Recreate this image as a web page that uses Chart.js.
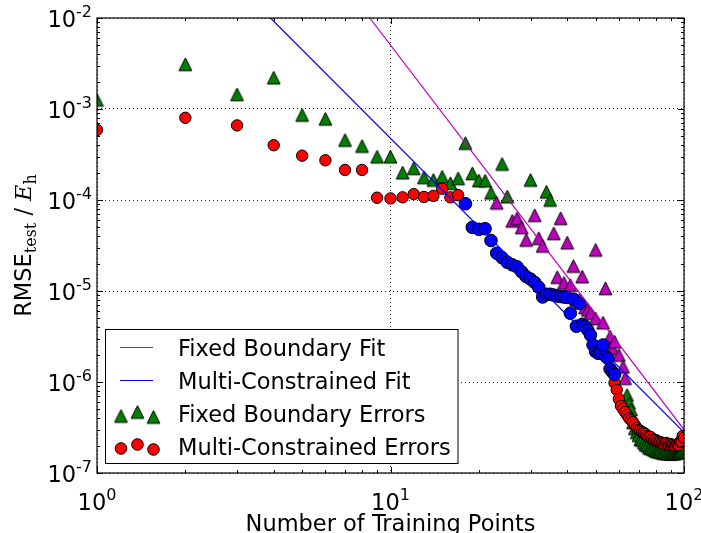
<!DOCTYPE html>
<html>
<head>
<meta charset="utf-8">
<script src="https://cdn.jsdelivr.net/npm/chart.js@4/dist/chart.umd.min.js"></script>
<style>
  html, body { margin: 0; padding: 0; background: #fff; }
  #wrap { width: 701px; height: 533px; }
</style>
</head>
<body>
<div id="wrap"><canvas id="c" width="701" height="533"></canvas></div>
<script>
// Number of training points vs. test RMSE (log-log)

// Fixed boundary errors (points outside the fitted range)
const fixedN = [1,2,3,4,5,6,7,8,9,10,11,12,13,14,15,16,17,18,19,20,21,22,24,25,30,34,35,
  64,65,66,67,68,69,70,71,72,73,74,75,76,77,78,79,80,81,82,83,84,85,86,87,88,89,90,91,92,93,94,95,96,97,98,99,100];
const fixedErr = [1.26e-3,3.1e-3,1.45e-3,2.21e-3,8.6e-4,7.8e-4,4.56e-4,3.92e-4,2.99e-4,2.99e-4,2.0e-4,2.23e-4,1.77e-4,1.66e-4,1.80e-4,1.53e-4,1.73e-4,4.22e-4,1.96e-4,1.64e-4,1.63e-4,1.20e-4,2.49e-4,1.09e-4,1.66e-4,1.23e-4,1.0e-4,
  7.2e-7,5.9e-7,5.0e-7,3.6e-7,3.1e-7,2.8e-7,2.6e-7,2.35e-7,2.3e-7,2.15e-7,2.05e-7,2.0e-7,1.9e-7,1.87e-7,1.85e-7,1.8e-7,1.76e-7,1.74e-7,1.71e-7,1.72e-7,1.68e-7,1.66e-7,1.67e-7,1.65e-7,1.64e-7,1.65e-7,1.63e-7,1.64e-7,1.65e-7,1.64e-7,1.66e-7,1.68e-7,1.7e-7,1.75e-7,1.8e-7,1.9e-7,2.0e-7];

// Fixed boundary errors inside the fitted range
const fixedFitN = [23,26,27,28,29,31,32,33,36,37,38,39,40,41,42,43,44,45,46,47,48,50,50,53,54,56,57,58,60,62,63];
const fixedFitErr = [9.3e-5,5.9e-5,6.3e-5,5.0e-5,3.64e-5,6.8e-5,3.8e-5,3.13e-5,4.3e-5,1.42e-5,6.3e-5,1.23e-5,3.4e-5,1.16e-5,1.88e-5,8.0e-6,8.0e-6,1.44e-5,6.6e-6,6.2e-6,5.7e-6,2.83e-5,5.0e-6,4.49e-6,1.07e-5,3.15e-6,2.34e-6,2.77e-6,1.98e-6,1.47e-6,1.1e-6];

// Multi-constrained errors (points outside the fitted range)
const multiN = [1,2,3,4,5,6,7,8,9,10,11,12,13,14,15,16,17,
  58,59,60,61,62,63,64,65,66,67,68,69,70,71,72,73,74,75,76,77,78,79,80,81,82,83,84,85,86,87,88,89,90,91,92,93,94,95,96,97,98,99,100];
const multiErr = [5.9e-4,8.0e-4,6.6e-4,4.0e-4,3.07e-4,2.73e-4,2.14e-4,2.14e-4,1.06e-4,1.04e-4,1.07e-4,1.16e-4,1.08e-4,1.11e-4,1.33e-4,1.07e-4,1.13e-4,
  9.75e-7,8.2e-7,6.5e-7,5.44e-7,5.05e-7,4.68e-7,4.34e-7,4.02e-7,3.82e-7,3.63e-7,3.37e-7,3.12e-7,2.97e-7,2.9e-7,2.82e-7,2.75e-7,2.68e-7,2.55e-7,2.49e-7,2.49e-7,2.37e-7,2.31e-7,2.31e-7,2.25e-7,2.19e-7,2.19e-7,2.14e-7,2.14e-7,2.08e-7,2.14e-7,2.08e-7,2.03e-7,2.08e-7,2.03e-7,2.03e-7,1.98e-7,2.03e-7,2.08e-7,2.03e-7,2.19e-7,2.25e-7,2.55e-7,2.43e-7];

// Multi-constrained errors inside the fitted range
const multiFitN = [18,19,20,21,22,23,24,25,26,27,28,29,30,31,32,33,34,35,36,37,38,39,40,41,42,43,44,45,46,47,48,49,50,51,52,53,54,55,56,57,58];
const multiFitErr = [9.1e-5,5.0e-5,4.76e-5,4.84e-5,3.59e-5,2.6e-5,2.32e-5,2.07e-5,1.94e-5,1.84e-5,1.62e-5,1.44e-5,1.35e-5,1.24e-5,1.1e-5,8.6e-6,9.2e-6,9.2e-6,9.0e-6,8.8e-6,8.7e-6,8.6e-6,8.5e-6,5.7e-6,8.1e-6,4.1e-6,7.3e-6,4.3e-6,4.1e-6,3.73e-6,3.28e-6,2.55e-6,2.16e-6,2.07e-6,2.1e-6,2.55e-6,1.93e-6,1.82e-6,1.39e-6,1.29e-6,1.21e-6];

// Power-law fit lines (end points of the straight lines in log-log space)
const fixedFitLineN = [8.5, 100];
const fixedFitLineY = [1e-2, 3.0e-7];
const multiFitLineN = [3.9, 100];
const multiFitLineY = [1e-2, 2.8e-7];

// Axis ranges and major ticks
const xTicks = [1, 10, 100];
const xTickExp = ['0', '1', '2'];
const yTicks = [1e-7, 1e-6, 1e-5, 1e-4, 1e-3, 1e-2];
const yTickExp = ['-7', '-6', '-5', '-4', '-3', '-2'];

const legendLabels = ['Fixed Boundary Fit', 'Multi-Constrained Fit', 'Fixed Boundary Errors', 'Multi-Constrained Errors'];

const GREEN = '#008000', MAGENTA = '#bf00bf', BLUE = '#0000ff', RED = '#ff0000';
const SANS = '"DejaVu Sans", sans-serif';
const SERIF = '"DejaVu Serif", serif';
const FS = 22.5, FS_SUP = 16;

function pts(xs, ys) { return xs.map((x, i) => ({ x: x, y: ys[i] })); }

// upward triangle marker, as wide as it is tall
function triangle(color) {
  const s = 17, c = document.createElement('canvas');
  c.width = s; c.height = s;
  const g = c.getContext('2d');
  const h = 6.4, cx = s / 2, cy = s / 2;
  g.beginPath();
  g.moveTo(cx, cy - h); g.lineTo(cx + h, cy + h); g.lineTo(cx - h, cy + h); g.closePath();
  g.fillStyle = color; g.fill();
  g.lineWidth = 1; g.strokeStyle = '#000'; g.lineJoin = 'miter'; g.stroke();
  return c;
}
const triGreen = triangle(GREEN), triMagenta = triangle(MAGENTA);

function powLabel(ctx, exp, x, y, align) {
  ctx.font = FS + 'px ' + SANS;
  const wb = ctx.measureText('10').width;
  ctx.font = FS_SUP + 'px ' + SANS;
  const we = ctx.measureText(exp).width;
  const total = wb + we;
  const x0 = align === 'right' ? x - total : x - total / 2;
  ctx.textAlign = 'left'; ctx.textBaseline = 'alphabetic';
  ctx.font = FS + 'px ' + SANS; ctx.fillText('10', x0, y);
  ctx.font = FS_SUP + 'px ' + SANS; ctx.fillText(exp, x0 + wb, y - 10);
}

function minorValues(min, max) {
  const out = [];
  for (let e = Math.floor(Math.log10(min)); e < Math.ceil(Math.log10(max)); e++) {
    for (let m = 2; m <= 9; m++) {
      const v = m * Math.pow(10, e);
      if (v > min && v < max) out.push(v);
    }
  }
  return out;
}

const decor = {
  id: 'decor',
  afterDraw(chart) {
    const ctx = chart.ctx, a = chart.chartArea, xs = chart.scales.x, ys = chart.scales.y;
    ctx.save();
    ctx.strokeStyle = '#000'; ctx.fillStyle = '#000';

    // ticks pointing inward on all four sides
    ctx.lineWidth = 1;
    const seg = (x1, y1, x2, y2) => { ctx.beginPath(); ctx.moveTo(x1, y1); ctx.lineTo(x2, y2); ctx.stroke(); };
    xTicks.forEach(v => { const p = Math.round(xs.getPixelForValue(v)) + 0.5; seg(p, a.bottom, p, a.bottom - 6); seg(p, a.top, p, a.top + 6); });
    minorValues(1, 100).forEach(v => { const p = Math.round(xs.getPixelForValue(v)) + 0.5; seg(p, a.bottom, p, a.bottom - 3); seg(p, a.top, p, a.top + 3); });
    yTicks.forEach(v => { const p = Math.round(ys.getPixelForValue(v)) + 0.5; seg(a.left, p, a.left + 6, p); seg(a.right, p, a.right - 6, p); });
    minorValues(1e-7, 1e-2).forEach(v => { const p = Math.round(ys.getPixelForValue(v)) + 0.5; seg(a.left, p, a.left + 3, p); seg(a.right, p, a.right - 3, p); });

    // frame
    ctx.lineWidth = 1.2;
    ctx.strokeRect(a.left, a.top, a.right - a.left, a.bottom - a.top);

    // tick labels
    yTicks.forEach((v, i) => powLabel(ctx, yTickExp[i], a.left - 5, ys.getPixelForValue(v) + 9, 'right'));
    xTicks.forEach((v, i) => powLabel(ctx, xTickExp[i], xs.getPixelForValue(v), a.bottom + 37, 'center'));

    // x-axis title
    ctx.font = FS + 'px ' + SANS; ctx.textAlign = 'center'; ctx.textBaseline = 'alphabetic';
    ctx.fillText('Number of Training Points', (a.left + a.right) / 2, a.bottom + 57.5);

    // y-axis title: RMSE_test / E_h
    ctx.save();
    ctx.translate(31, (a.top + a.bottom) / 2);
    ctx.rotate(-Math.PI / 2);
    const parts = [
      { t: 'RMSE', f: FS + 'px ' + SANS, dy: 0 },
      { t: 'test', f: '16px ' + SERIF, dy: 4.5 },
      { t: ' / ', f: FS + 'px ' + SANS, dy: 0 },
      { t: 'E', f: 'italic ' + FS + 'px ' + SERIF, dy: 0 },
      { t: 'h', f: '16px ' + SERIF, dy: 4.5 }
    ];
    let tw = 0;
    parts.forEach(p => { ctx.font = p.f; p.w = ctx.measureText(p.t).width; tw += p.w; });
    let px = -tw / 2;
    ctx.textAlign = 'left';
    parts.forEach(p => { ctx.font = p.f; ctx.fillText(p.t, px, p.dy); px += p.w; });
    ctx.restore();

    // legend
    const L = { l: 105.5, t: 329.5, r: 458, b: 463.5 };
    ctx.fillStyle = '#fff';
    ctx.fillRect(L.l, L.t, L.r - L.l, L.b - L.t);
    ctx.lineWidth = 1; ctx.strokeStyle = '#000';
    ctx.strokeRect(L.l, L.t, L.r - L.l, L.b - L.t);
    const rows = [347.5, 380.5, 413.5, 446.5];
    ctx.lineWidth = 1.2;
    ctx.strokeStyle = MAGENTA; seg(120, rows[0], 153, rows[0]);
    ctx.strokeStyle = BLUE; seg(120, rows[1], 153, rows[1]);
    ctx.lineWidth = 1;
    const mx = [121, 137.5, 153.5], moff = [2.5, -1.5, 3.5];
    mx.forEach((x, i) => ctx.drawImage(triGreen, x - triGreen.width / 2, rows[2] + moff[i] - triGreen.height / 2));
    mx.forEach((x, i) => {
      ctx.beginPath(); ctx.arc(x, rows[3] + moff[i] - 0.5, 5.8, 0, Math.PI * 2);
      ctx.fillStyle = RED; ctx.fill(); ctx.strokeStyle = '#000'; ctx.stroke();
    });
    ctx.fillStyle = '#000';
    ctx.font = FS + 'px ' + SANS; ctx.textAlign = 'left'; ctx.textBaseline = 'alphabetic';
    legendLabels.forEach((s, i) => ctx.fillText(s, 178, rows[i] + 8));
    ctx.restore();
  }
};

const decadeGrid = (ticks) => (c) => ticks.some(v => Math.abs(Math.log10(c.tick.value) - Math.log10(v)) < 1e-6) ? 'rgba(0,0,0,0.85)' : 'rgba(0,0,0,0)';

new Chart(document.getElementById('c'), {
  type: 'scatter',
  data: {
    datasets: [
      { label: legendLabels[0], data: pts(fixedFitLineN, fixedFitLineY), showLine: true, borderColor: MAGENTA, borderWidth: 1.2, pointRadius: 0, order: 0, clip: 0 },
      { label: legendLabels[1], data: pts(multiFitLineN, multiFitLineY), showLine: true, borderColor: BLUE, borderWidth: 1.2, pointRadius: 0, order: 0, clip: 0 },
      { label: legendLabels[2], data: pts(fixedN, fixedErr), pointStyle: triGreen, order: 4, clip: 0 },
      { label: 'Fixed Boundary (fitted)', data: pts(fixedFitN, fixedFitErr), pointStyle: triMagenta, order: 3, clip: 0 },
      { label: legendLabels[3], data: pts(multiN, multiErr), pointStyle: 'circle', pointRadius: 5.7, backgroundColor: RED, borderColor: '#000', borderWidth: 1, order: 2, clip: 0 },
      { label: 'Multi-Constrained (fitted)', data: pts(multiFitN, multiFitErr), pointStyle: 'circle', pointRadius: 6.3, backgroundColor: BLUE, borderColor: '#000', borderWidth: 1, order: 1, clip: 0 }
    ]
  },
  options: {
    responsive: false,
    animation: false,
    events: [],
    layout: { padding: { left: 97, right: 17, top: 18, bottom: 60 } },
    scales: {
      x: {
        type: 'logarithmic', min: 1, max: 100,
        afterBuildTicks: s => { s.ticks = xTicks.map(v => ({ value: v })); },
        ticks: { display: false },
        grid: { color: decadeGrid(xTicks), lineWidth: 1, drawTicks: false },
        border: { display: false, dash: [1, 3] }
      },
      y: {
        type: 'logarithmic', min: 1e-7, max: 1e-2,
        afterBuildTicks: s => { s.ticks = yTicks.map(v => ({ value: v })); },
        ticks: { display: false },
        grid: { color: decadeGrid(yTicks), lineWidth: 1, drawTicks: false },
        border: { display: false, dash: [1, 3] }
      }
    },
    plugins: { legend: { display: false }, tooltip: { enabled: false } }
  },
  plugins: [decor]
});
</script>
</body>
</html>
